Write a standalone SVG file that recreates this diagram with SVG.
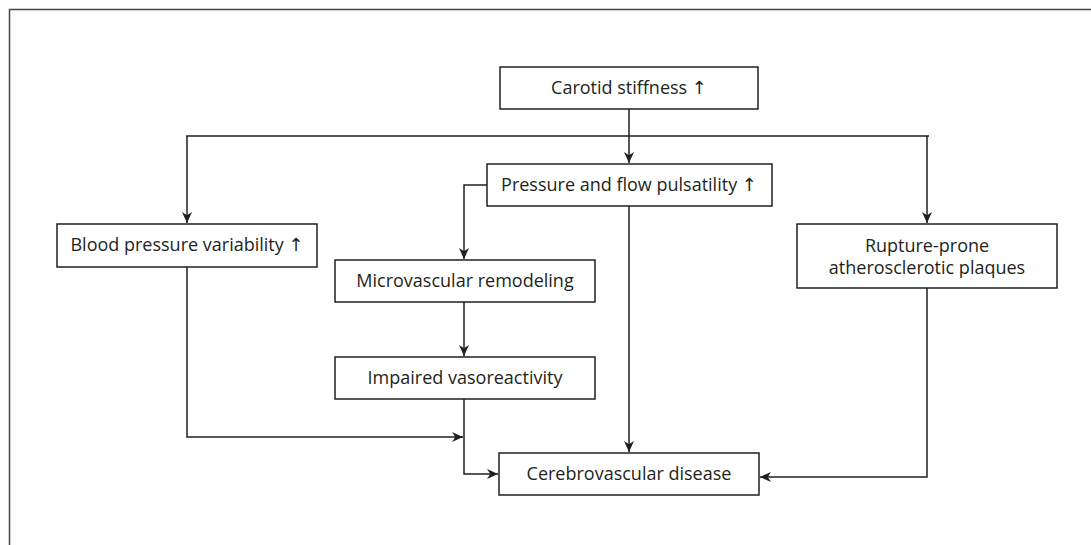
<svg xmlns="http://www.w3.org/2000/svg" width="1091" height="545" viewBox="0 0 1091 545">
<defs>
<marker id="ah" viewBox="0 0 10 10" refX="10" refY="5" markerWidth="11" markerHeight="10" markerUnits="userSpaceOnUse" orient="auto" preserveAspectRatio="none">
<path d="M0,0 L10,5 L0,10 L3,5 Z" fill="#231f20"/>
</marker>
<style>
.box{fill:#fff;stroke:#231f20;stroke-width:1.5}
.t{font-family:"Open Sans","Noto Sans","DejaVu Sans",sans-serif;font-size:18px;fill:#231f20;text-anchor:middle}
.c{fill:none;stroke:#231f20;stroke-width:1.5}
</style>
</defs>
<rect width="1091" height="545" fill="#fff"/>
<path d="M9.5,545 V9.5 H1091" fill="none" stroke="#444" stroke-width="1.5"/>
<g id="connectors">
<path class="c" d="M629,109 V163" marker-end="url(#ah)"/>
<path class="c" d="M186,136 H929"/>
<path class="c" d="M187,136 V223" marker-end="url(#ah)"/>
<path class="c" d="M927,136 V223" marker-end="url(#ah)"/>
<path class="c" d="M487,185 H464 V259" marker-end="url(#ah)"/>
<path class="c" d="M464,302 V356" marker-end="url(#ah)"/>
<path class="c" d="M629,206 V452" marker-end="url(#ah)"/>
<path class="c" d="M187,267 V437 H463" marker-end="url(#ah)"/>
<path class="c" d="M464,399 V474 H498" marker-end="url(#ah)"/>
<path class="c" d="M927,288 V477 H760" marker-end="url(#ah)"/>
</g>
<g id="carotid"><rect class="box" x="500" y="67" width="258" height="42"/><text class="t" x="629" y="94">Carotid stiffness ↑</text></g>
<g id="pulsatility"><rect class="box" x="487" y="164" width="285" height="42"/><text class="t" x="629" y="191">Pressure and flow pulsatility ↑</text></g>
<g id="bpv"><rect class="box" x="57" y="224" width="260" height="43"/><text class="t" x="187" y="251">Blood pressure variability ↑</text></g>
<g id="rupture"><rect class="box" x="797" y="224" width="260" height="64"/><text class="t" x="927" y="252">Rupture-prone</text><text class="t" x="927" y="274">atherosclerotic plaques</text></g>
<g id="micro"><rect class="box" x="335" y="260" width="260" height="42"/><text class="t" x="465" y="287">Microvascular remodeling</text></g>
<g id="impaired"><rect class="box" x="335" y="357" width="260" height="42"/><text class="t" x="465" y="384">Impaired vasoreactivity</text></g>
<g id="cerebro"><rect class="box" x="499" y="453" width="260" height="42"/><text class="t" x="629" y="480">Cerebrovascular disease</text></g>
</svg>
